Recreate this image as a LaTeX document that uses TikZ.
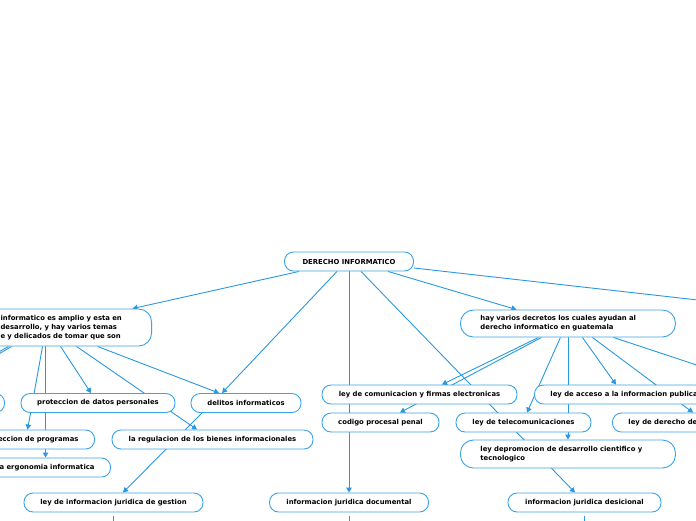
\documentclass[tikz,border=0pt]{standalone}
\usepackage{fontspec}
\setmainfont{DejaVu Sans}
\usetikzlibrary{arrows.meta,backgrounds,calc}
\definecolor{lc}{HTML}{2A98E0}
\definecolor{bc}{HTML}{3BA3E8}
\tikzset{
  box/.style={draw=bc, line width=0.9pt, fill=white, rounded corners=9pt, minimum height=19pt,
    inner xsep=16pt, inner ysep=0pt, font=\bfseries\fontsize{6.85}{9}\selectfont, text=black},
  boxtwo/.style={box, rounded corners=13pt, align=left, inner xsep=20pt},
  ar/.style={draw=lc, line width=0.9pt, -{Triangle[length=5pt,width=5.5pt]}},
  ln/.style={draw=lc, line width=0.9pt}
}
\begin{document}
\begin{tikzpicture}[x=1pt,y=-1pt]
\useasboundingbox (0,0) rectangle (696,520);
% nodes
\node[box, minimum width=129pt] (der) at (349,261.5) {DERECHO INFORMATICO};
\node[boxtwo, text width=131pt, minimum height=37pt, anchor=east] (big) at (152,327.5)
  {informatico es amplio y esta en\\desarrollo, y hay varios temas\\e y delicados de tomar que son};
\node[boxtwo, text width=175pt, minimum height=27pt, anchor=west] (hay) at (460,323.5)
  {hay varios decretos los cuales ayudan al\\derecho informatico en guatemala};
\node[boxtwo, text width=175pt, minimum height=28pt, anchor=west] (pro) at (460,454)
  {ley depromocion de desarrollo cientifico y\\tecnologico};
\node[box, anchor=west] (acc) at (534,394.5) {ley de acceso a la informacion publica};
\node[box, anchor=west] (dra) at (612,422.5) {ley de derecho de};
\node[box, minimum width=195pt] (com) at (419.5,394.5) {ley de comunicacion y firmas electronicas};
\node[box, minimum width=117pt] (cpp) at (380.5,422.5) {codigo procesal penal};
\node[box, minimum width=135pt] (tel) at (523.5,422.5) {ley de telecomunicaciones};
\node[box, minimum width=153pt] (des) at (584.5,502.5) {informacion juridica desicional};
\node[box, minimum width=159pt] (doc) at (349,502.5) {informacion juridica documental};
\node[box, minimum width=179pt] (ges) at (113.5,502.5) {ley de informacion juridica de gestion};
\node[box, minimum width=154pt] (datos) at (98,403) {proteccion de datos personales};
\node[box, minimum width=110pt] (del) at (246,403) {delitos informaticos};
\node[box, minimum width=201pt] (reg) at (212.5,439.5) {la regulacion de los bienes informacionales};
\node[box, anchor=east, text width=140pt, align=right] (prog) at (95,439.5) {eccion de programas};
\node[box, anchor=east, text width=150pt, align=right] (erg) at (111,467.5) {a ergonomia informatica};
\node[box, anchor=east, minimum width=80pt] (far) at (5,403) {};
% free ends off the page
\coordinate (offR1) at (760,307);
\coordinate (offR2) at (760,386);
\coordinate (offL1) at (-30,371);
\coordinate (offL2) at (-30,368);
\coordinate (offB1) at (113.5,560);
\coordinate (offB2) at (349,560);
\coordinate (offB3) at (584.5,560);
\begin{scope}[on background layer]
\fill[white] (0,0) rectangle (696,520);
\draw[ar] ([xshift=-50pt]der.south) -- ([xshift=66.5pt]big.north);
\draw[ar] ([xshift=-12pt]der.south) -- ([xshift=-24pt]del.north);
\draw[ar] (der.south) -- (doc.north);
\draw[ar] ([xshift=12pt]der.south) -- ([xshift=-9.5pt]des.north);
\draw[ar] ([xshift=39pt]der.south) -- ([xshift=-51.5pt]hay.north);
\draw[ln] ([yshift=-6.5pt]der.east) -- (offR1);
\draw[ar] ([xshift=10.5pt]big.south) -- ([xshift=-15.5pt]reg.north);
\draw[ar] ([xshift=31.5pt]big.south) -- ([xshift=-27pt]del.north);
\draw[ar] ([xshift=-5.5pt]big.south) -- ([xshift=-7pt]datos.north);
\draw[ar] ([xshift=-23.5pt]big.south) -- ([xshift=19pt]prog.north);
\draw[ar] ([xshift=-20.5pt]big.south) -- ([xshift=26pt]erg.north);
\draw[ln] ([xshift=-54.5pt]big.south) -- (offL1);
\draw[ln] ([xshift=-57.5pt]big.south) -- (offL2);
\draw[ar] ([xshift=-44pt]del.south) -- ([xshift=9.5pt]ges.north);
\draw[ar] ([xshift=-29.5pt]hay.south) -- ([xshift=22.5pt]com.north);
\draw[ar] ([xshift=-26.5pt]hay.south) -- ([xshift=19.5pt]cpp.north);
\draw[ar] ([xshift=-7.5pt]hay.south) -- ([xshift=3.5pt]tel.north);
\draw[ar] (hay.south) -- (pro.north);
\draw[ar] ([xshift=14.5pt]hay.south) -- ([xshift=82pt]acc.north west);
\draw[ar] ([xshift=24.5pt]hay.south) -- ([xshift=81pt]dra.north west);
\draw[ln] ([xshift=45.5pt]hay.south) -- (offR2);
\draw[ln, shorten <=4pt] (ges.south) -- (offB1);
\draw[ln, shorten <=4pt] (doc.south) -- (offB2);
\draw[ln, shorten <=4pt] (des.south) -- (offB3);
\end{scope}
\end{tikzpicture}
\end{document}
